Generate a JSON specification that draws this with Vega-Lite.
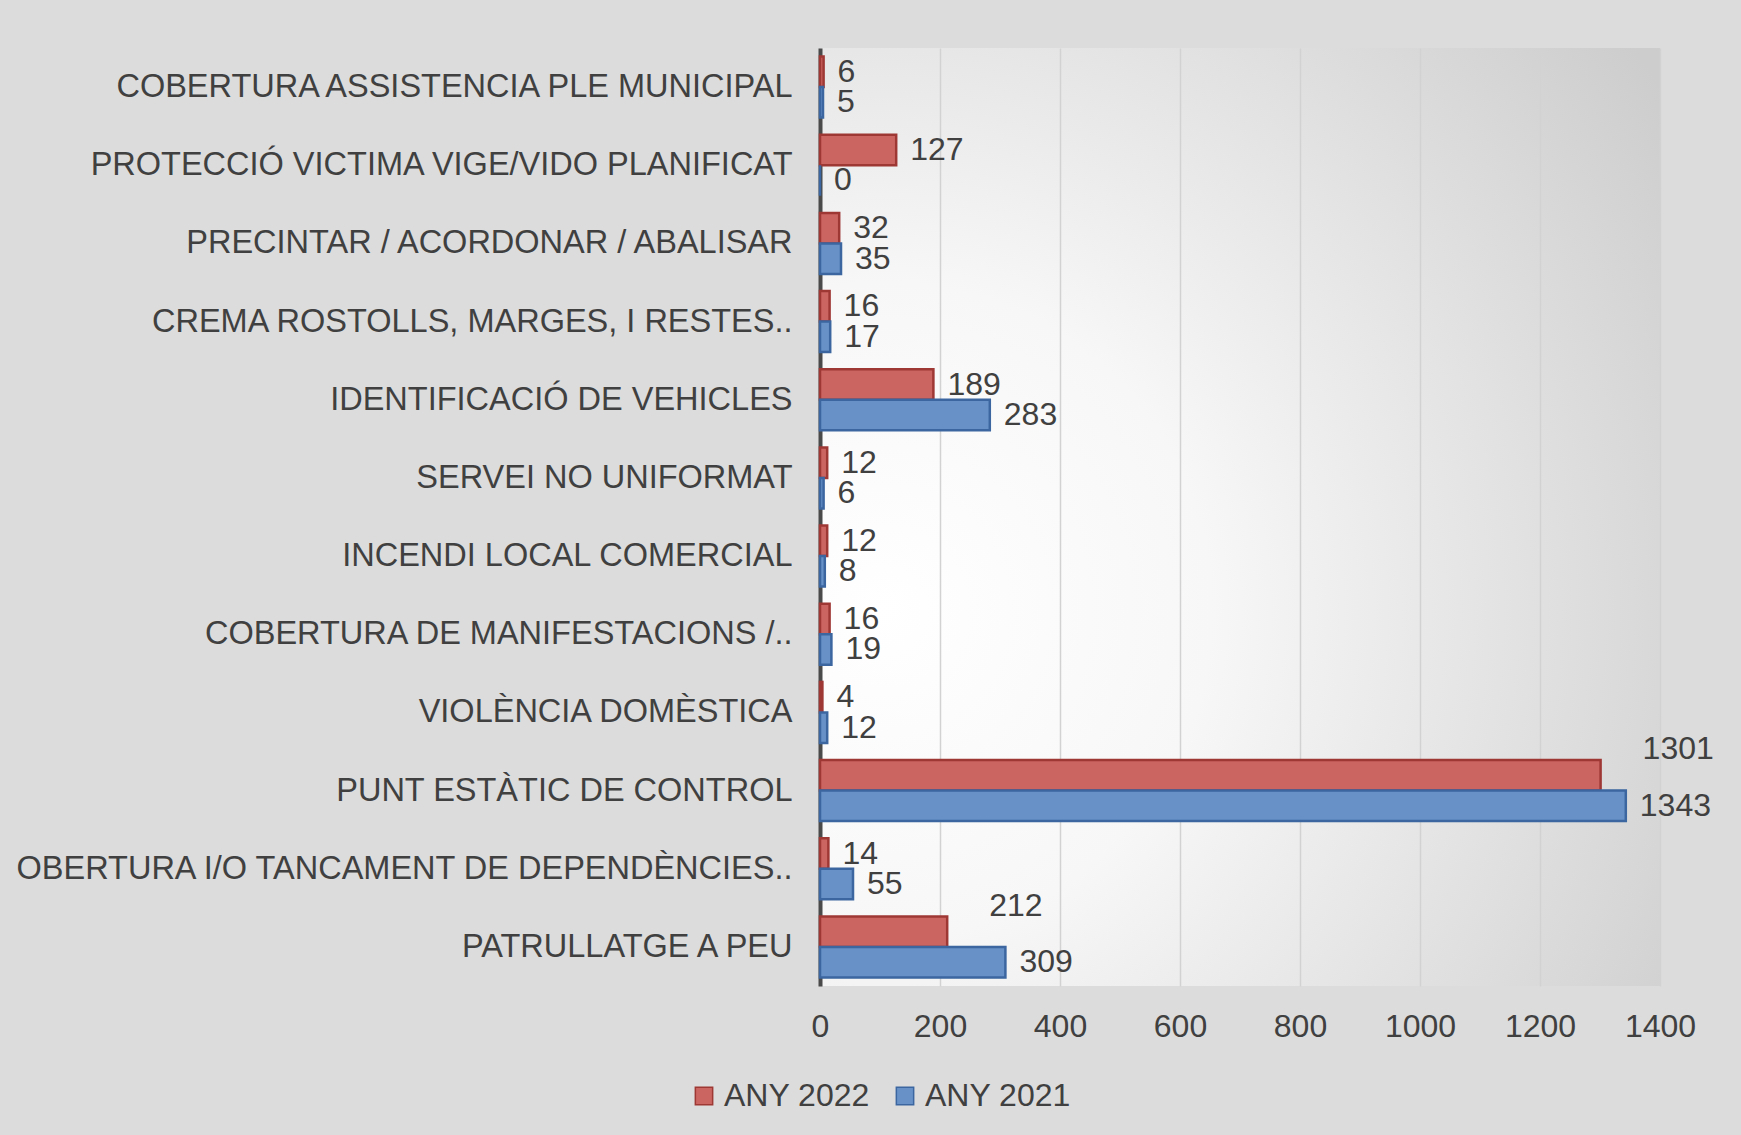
{
  "$schema": "https://vega.github.io/schema/vega-lite/v6.json",
  "width": 840,
  "height": 938,
  "autosize": {"type": "none"},
  "padding": {"left": 820, "top": 48, "right": 81, "bottom": 149},
  "background": "#dcdcdc",
  "config": {
    "font": "Liberation Sans",
    "view": {
      "stroke": null,
      "fill": {
        "gradient": "radial",
        "x1": 0.12, "y1": 0.6, "r1": 0,
        "x2": 0.12, "y2": 0.6, "r2": 1.0,
        "stops": [
          {"offset": 0, "color": "#ffffff"},
          {"offset": 0.35, "color": "#f7f7f7"},
          {"offset": 1, "color": "#cdcdcd"}
        ]
      }
    }
  },
  "data": {
    "values": [
      {"category": "COBERTURA ASSISTENCIA PLE MUNICIPAL", "year": "ANY 2022", "value": 6},
      {"category": "COBERTURA ASSISTENCIA PLE MUNICIPAL", "year": "ANY 2021", "value": 5},
      {"category": "PROTECCIÓ VICTIMA VIGE/VIDO PLANIFICAT", "year": "ANY 2022", "value": 127},
      {"category": "PROTECCIÓ VICTIMA VIGE/VIDO PLANIFICAT", "year": "ANY 2021", "value": 0},
      {"category": "PRECINTAR / ACORDONAR / ABALISAR", "year": "ANY 2022", "value": 32},
      {"category": "PRECINTAR / ACORDONAR / ABALISAR", "year": "ANY 2021", "value": 35},
      {"category": "CREMA ROSTOLLS, MARGES, I RESTES..", "year": "ANY 2022", "value": 16},
      {"category": "CREMA ROSTOLLS, MARGES, I RESTES..", "year": "ANY 2021", "value": 17},
      {"category": "IDENTIFICACIÓ DE VEHICLES", "year": "ANY 2022", "value": 189},
      {"category": "IDENTIFICACIÓ DE VEHICLES", "year": "ANY 2021", "value": 283},
      {"category": "SERVEI NO UNIFORMAT", "year": "ANY 2022", "value": 12},
      {"category": "SERVEI NO UNIFORMAT", "year": "ANY 2021", "value": 6},
      {"category": "INCENDI LOCAL COMERCIAL", "year": "ANY 2022", "value": 12},
      {"category": "INCENDI LOCAL COMERCIAL", "year": "ANY 2021", "value": 8},
      {"category": "COBERTURA DE MANIFESTACIONS /..", "year": "ANY 2022", "value": 16},
      {"category": "COBERTURA DE MANIFESTACIONS /..", "year": "ANY 2021", "value": 19},
      {"category": "VIOLÈNCIA DOMÈSTICA", "year": "ANY 2022", "value": 4},
      {"category": "VIOLÈNCIA DOMÈSTICA", "year": "ANY 2021", "value": 12},
      {"category": "PUNT ESTÀTIC DE CONTROL", "year": "ANY 2022", "value": 1301},
      {"category": "PUNT ESTÀTIC DE CONTROL", "year": "ANY 2021", "value": 1343},
      {"category": "OBERTURA I/O TANCAMENT DE DEPENDÈNCIES..", "year": "ANY 2022", "value": 14},
      {"category": "OBERTURA I/O TANCAMENT DE DEPENDÈNCIES..", "year": "ANY 2021", "value": 55},
      {"category": "PATRULLATGE A PEU", "year": "ANY 2022", "value": 212},
      {"category": "PATRULLATGE A PEU", "year": "ANY 2021", "value": 309}
    ]
  },
  "encoding": {
    "y": {
      "field": "category",
      "type": "nominal",
      "sort": null,
      "scale": {"paddingInner": 0.22, "paddingOuter": 0.11},
      "axis": {
        "title": null,
        "ticks": false,
        "labelPadding": 28,
        "labelLimit": 900,
        "labelFontSize": 32.5,
        "labelColor": "#404040",
        "domain": true,
        "domainColor": "#4a4a4a",
        "domainWidth": 4
      }
    },
    "yOffset": {"field": "year", "sort": ["ANY 2022", "ANY 2021"]},
    "x": {
      "field": "value",
      "type": "quantitative",
      "scale": {"domain": [0, 1400], "nice": false},
      "axis": {
        "title": null,
        "values": [0, 200, 400, 600, 800, 1000, 1200, 1400],
        "format": "d",
        "labelFlush": false,
        "domain": false,
        "ticks": false,
        "labelPadding": 25,
        "labelFontSize": 32,
        "labelColor": "#404040",
        "grid": true,
        "gridColor": "#d2d2d2",
        "gridWidth": 1.5
      }
    }
  },
  "layer": [
    {
      "mark": {"type": "bar", "strokeWidth": 2.5, "fillOpacity": 1},
      "encoding": {
        "color": {
          "field": "year",
          "type": "nominal",
          "scale": {"domain": ["ANY 2022", "ANY 2021"], "range": ["#cb6562", "#6791c7"]},
          "legend": {
            "orient": "none",
            "legendX": -132,
            "legendY": 1032,
            "direction": "horizontal",
            "title": null,
            "symbolType": "square",
            "symbolSize": 300,
            "symbolStrokeWidth": 1.5,
            "labelFontSize": 32,
            "labelColor": "#404040",
            "labelOffset": 4,
            "columnPadding": 19
          }
        },
        "stroke": {
          "field": "year",
          "type": "nominal",
          "scale": {"domain": ["ANY 2022", "ANY 2021"], "range": ["#9e3835", "#3b66a0"]},
          "legend": null
        }
      }
    },
    {
      "transform": [{"filter": "datum.value != 1301 && datum.value != 212"}],
      "mark": {"type": "text", "align": "left", "baseline": "middle", "dx": 14, "fontSize": 32, "color": "#404040"},
      "encoding": {"text": {"field": "value", "type": "quantitative"}}
    },
    {
      "transform": [{"filter": "datum.value == 1301 || datum.value == 212"}],
      "mark": {"type": "text", "align": "left", "baseline": "middle", "dx": 42, "dy": -26, "fontSize": 32, "color": "#404040"},
      "encoding": {"text": {"field": "value", "type": "quantitative"}}
    }
  ]
}
